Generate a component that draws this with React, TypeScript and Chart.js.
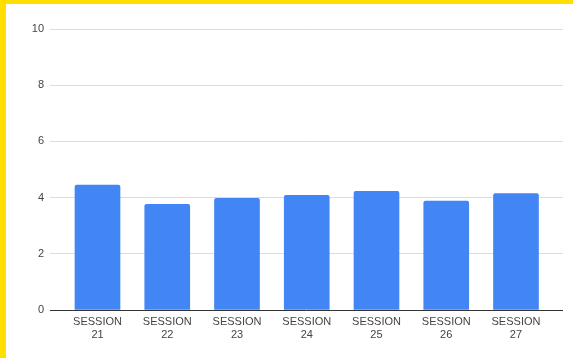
import React, { useEffect, useRef } from "react";
import { Chart, registerables } from "chart.js";

Chart.register(...registerables);

const categories: string[][] = [
  ["SESSION", "21"],
  ["SESSION", "22"],
  ["SESSION", "23"],
  ["SESSION", "24"],
  ["SESSION", "25"],
  ["SESSION", "26"],
  ["SESSION", "27"],
];
const values: number[] = [4.45, 3.76, 3.97, 4.08, 4.22, 3.88, 4.14];
const yTicks: number[] = [0, 2, 4, 6, 8, 10];

export default function App() {
  const ref = useRef<HTMLCanvasElement | null>(null);

  useEffect(() => {
    document.body.style.margin = "0";
    const ctx = ref.current!.getContext("2d")!;
    const chart = new Chart(ctx, {
      type: "bar",
      data: {
        datasets: [
          {
            data: values.map((v, i) => ({ x: i, y: v })),
            backgroundColor: "#4285F4",
            borderColor: "#4285F4",
            borderWidth: 0,
            borderRadius: 2,
            borderSkipped: "bottom",
            barThickness: 45,
          },
        ],
      },
      options: {
        animation: false,
        responsive: false,
        maintainAspectRatio: false,
        layout: { padding: { left: 0, right: 10, top: 25, bottom: 0 } },
        plugins: { legend: { display: false }, tooltip: { enabled: false } },
        scales: {
          x: {
            type: "linear",
            offset: false,
            min: -0.681,
            max: 6.674,
            grid: { display: false, drawTicks: false },
            border: { display: false },
            afterBuildTicks: (scale: any) => {
              scale.ticks = categories.map((_, i) => ({ value: i }));
            },
            afterFit: (scale: any) => {
              scale.height = 48;
            },
            ticks: {
              autoSkip: false,
              maxRotation: 0,
              padding: 5,
              color: "#444",
              font: { family: "'Liberation Sans', Arial, sans-serif", size: 11 },
              callback: (v: any) => categories[Math.round(Number(v))] ?? "",
            },
          },
          y: {
            min: 0,
            max: 10,
            afterBuildTicks: (scale: any) => {
              scale.ticks = yTicks.map((v) => ({ value: v }));
            },
            afterFit: (scale: any) => {
              scale.width = 44;
            },
            grid: {
              drawTicks: false,
              color: (c: any) => (c.tick && c.tick.value === 0 ? "#333333" : "#dcdcdc"),
              lineWidth: 1,
            },
            border: { display: false },
            ticks: {
              padding: 6,
              color: "#444",
              font: { family: "'Liberation Sans', Arial, sans-serif", size: 11 },
            },
          },
        },
      },
    } as any);
    return () => chart.destroy();
  }, []);

  return (
    <div
      style={{
        position: "absolute",
        left: 0,
        top: 0,
        width: 573,
        height: 358,
        boxSizing: "border-box",
        borderLeft: "6px solid #FFDE00",
        borderTop: "4px solid #FFDE00",
        background: "#fff",
      }}
    >
      <canvas ref={ref} width={567} height={354} style={{ display: "block" }} />
    </div>
  );
}
